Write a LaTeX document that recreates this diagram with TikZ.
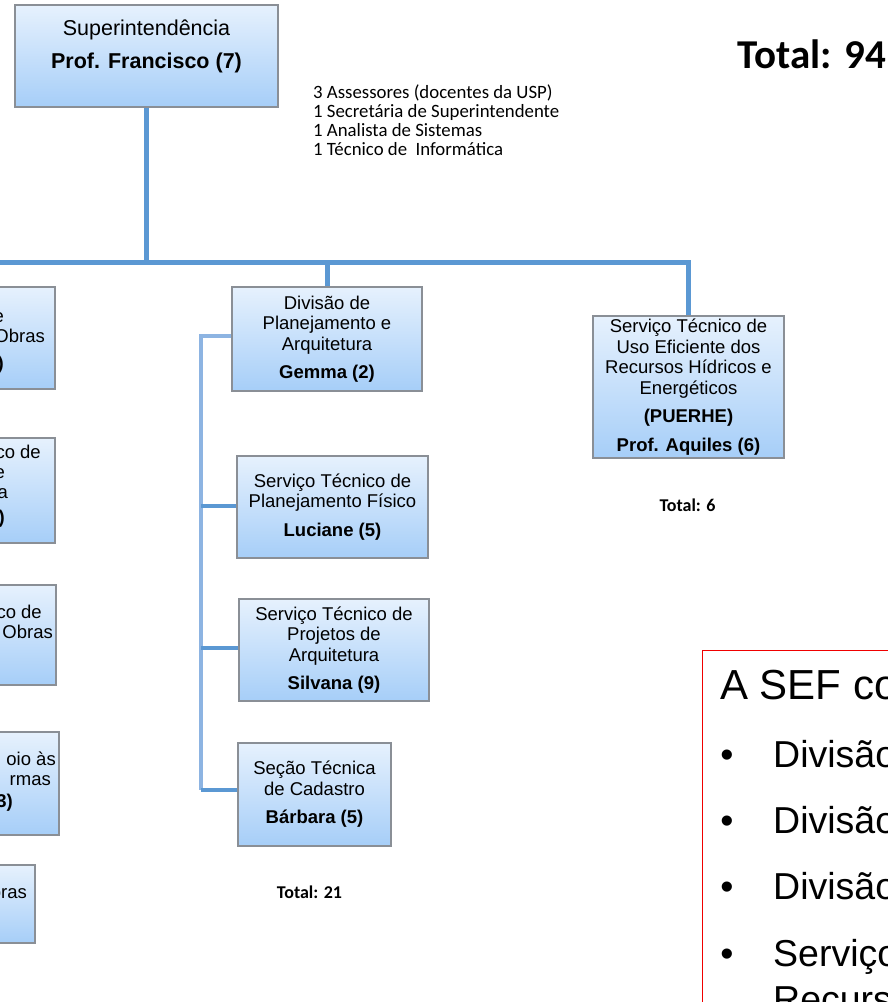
\documentclass[tikz,border=0pt]{standalone}
\usepackage{fontspec}
\setmainfont{Liberation Sans}
\newfontfamily\calfont{Carlito}
\definecolor{barblue}{RGB}{91,152,211}
\definecolor{spineblue}{RGB}{141,180,226}
\definecolor{boxtop}{RGB}{230,241,253}
\definecolor{boxbot}{RGB}{166,206,248}
\definecolor{boxedge}{RGB}{138,143,150}
\definecolor{sefred}{RGB}{240,0,0}
\tikzset{
  orgbox/.style={draw=boxedge, line width=1.1pt, top color=boxtop, bottom color=boxbot,
    inner sep=0pt, align=center, font=\fontsize{18.5}{20.5}\selectfont},
  frag/.style={inner sep=0pt, anchor=base east, font=\fontsize{18.5}{20.5}\selectfont},
  bar/.style={draw=barblue, line width=5pt},
  spine/.style={draw=spineblue, line width=4pt},
  stub/.style={draw=barblue, line width=4.5pt},
  total/.style={inner sep=0pt, font=\calfont\bfseries\fontsize{18}{21}\selectfont},
  sefitem/.style={inner sep=0pt, anchor=base west, font=\fontsize{37.5}{45}\selectfont},
  sefbullet/.style={inner sep=0pt, anchor=base, font=\fontsize{37.5}{45}\selectfont},
}
\begin{document}
\begin{tikzpicture}[x=1pt,y=-1pt]
\useasboundingbox (0,0) rectangle (888,1002);
\fill[white] (0,0) rectangle (888,1002);
\clip (0,0) rectangle (888,1002);

% top box
\node[orgbox, minimum width=263pt, minimum height=102pt] (sup) at (146.5,56) {};
\node[inner sep=0pt, align=center, font=\fontsize{21.5}{24.5}\selectfont] (supText) at (146.5,46)
  {Superintendência\\[8.5pt]\textbf{Prof. Francisco (7)}};

\node[inner sep=0pt, anchor=base east, font=\calfont\bfseries\fontsize{41}{46}\selectfont] (total94) at (886,68) {Total: 94};

\node[inner sep=0pt, anchor=west, align=left, font=\calfont\fontsize{18.8}{19}\selectfont] (assess) at (313,120.5)
  {3 Assessores (docentes da USP)\\1 Secretária de Superintendente\\1 Analista de Sistemas\\1 Técnico de\ \ Informática};

% middle column
\node[orgbox, minimum width=190pt, minimum height=104pt] (div) at (327,339)
  {Divisão de\\Planejamento e\\Arquitetura\\[8pt]\textbf{Gemma (2)}};
\node[orgbox, minimum width=191pt, minimum height=102pt] (stf) at (332.5,507)
  {Serviço Técnico de\\Planejamento Físico\\[8pt]\textbf{Luciane (5)}};
\node[orgbox, minimum width=190pt, minimum height=102pt] (stp) at (334,650)
  {Serviço Técnico de\\Projetos de\\Arquitetura\\[8pt]\textbf{Silvana (9)}};
\node[orgbox, minimum width=153pt, minimum height=103pt] (stc) at (314.5,794.5)
  {Seção Técnica\\de Cadastro\\[8pt]\textbf{Bárbara (5)}};
\node[total] (total21) at (309.5,892) {Total: 21};

% right column
\node[orgbox, minimum width=191pt, minimum height=142pt] (puerhe) at (688.5,387)
  {Serviço Técnico de\\Uso Eficiente dos\\Recursos Hídricos e\\Energéticos\\[8pt]\textbf{(PUERHE)}\\[8pt]\textbf{Prof. Aquiles (6)}};
\node[total] (total6) at (687.5,505) {Total: 6};

% left column (cut off)
\node[orgbox, minimum width=190pt, minimum height=102pt] (l1) at (-40,338) {};
\node[frag] (l1a) at (4,322) {e};
\node[frag] (l1b) at (45,342) {Obras};
\node[frag] (l1c) at (4,369) {\textbf{)}};
\node[orgbox, minimum width=190pt, minimum height=105pt] (l2) at (-40,490.5) {};
\node[frag] (l2a) at (41,458) {co de};
\node[frag] (l2b) at (5,478) {e};
\node[frag] (l2c) at (8,498) {a};
\node[frag] (l2d) at (5,523) {\textbf{)}};
\node[orgbox, minimum width=190pt, minimum height=100pt] (l3) at (-39,635) {};
\node[frag] (l3a) at (42,618) {co de};
\node[frag] (l3b) at (53,638) {Obras};
\node[orgbox, minimum width=190pt, minimum height=103pt] (l4) at (-36,783.5) {};
\node[frag] (l4a) at (56,765) {oio às};
\node[frag] (l4b) at (51,785) {rmas};
\node[frag] (l4c) at (13,807) {\textbf{3)}};
\node[orgbox, minimum width=190pt, minimum height=78pt] (l5) at (-60,904) {};
\node[frag] (l5a) at (27,898) {bras};

% connectors
\coordinate (barL) at (-10,262);
\coordinate (spineBot) at (201,790);
\draw[bar] (sup.south) -- (sup.south |- barL);
\draw[bar] (barL) -- (puerhe.north |- barL) -- (puerhe.north);
\draw[bar] (div.north) -- (div.north |- barL);
\draw[spine] ([yshift=3pt]div.west) -| (spineBot);
\draw[stub] ([yshift=1pt]stf.west) -- ([yshift=1pt]stf.west -| spineBot);
\draw[stub] ([yshift=2pt]stp.west) -- ([yshift=2pt]stp.west -| spineBot);
\draw[stub] (stc.west |- spineBot) -- (spineBot);

% red box
\node[draw=sefred, line width=1.3pt, inner sep=0pt, anchor=north west, minimum width=260pt, minimum height=400pt] (sef) at (702,650) {};
\node[inner sep=0pt, anchor=base west, font=\fontsize{42}{48}\selectfont] (sefTitle) at (720,699) {A SEF co};
\node[sefbullet] (b1) at (727,767) {•};
\node[sefitem] (i1) at (773,767) {Divisão};
\node[sefbullet] (b2) at (727,833) {•};
\node[sefitem] (i2) at (773,833) {Divisão};
\node[sefbullet] (b3) at (727,899) {•};
\node[sefitem] (i3) at (773,899) {Divisão};
\node[sefbullet] (b4) at (727,966) {•};
\node[sefitem] (i4) at (773,966) {Serviço};
\node[sefitem] (i5) at (773,1012) {Recurs};
\end{tikzpicture}
\end{document}
